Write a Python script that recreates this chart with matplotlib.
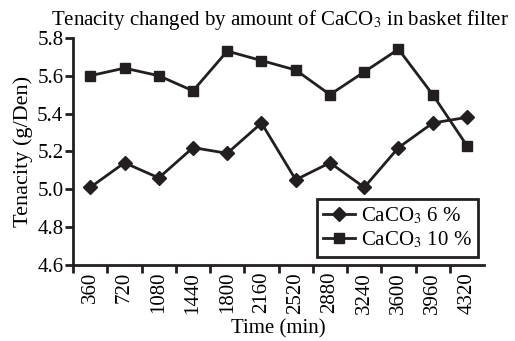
import matplotlib.pyplot as plt
import numpy as np

plt.rcParams['font.family'] = ['Liberation Serif', 'DejaVu Serif']
plt.rcParams['mathtext.fontset'] = 'stix'

times = ['360', '720', '1080', '1440', '1800', '2160', '2520', '2880', '3240', '3600', '3960', '4320']
caco3_6 = [5.01, 5.14, 5.06, 5.22, 5.19, 5.35, 5.05, 5.14, 5.01, 5.22, 5.35, 5.38]
caco3_10 = [5.60, 5.64, 5.60, 5.52, 5.73, 5.68, 5.63, 5.50, 5.62, 5.74, 5.50, 5.23]

fig = plt.figure(figsize=(5.15, 3.41), dpi=100)
ax = fig.add_axes([0.142, 0.223, 0.798, 0.666])

x = np.arange(len(times))
ax.plot(x, caco3_6, color='#231f20', lw=2, marker='D', ms=7, label='CaCO$_3$ 6 %')
ax.plot(x, caco3_10, color='#231f20', lw=2, marker='s', ms=7, label='CaCO$_3$ 10 %')

ax.set_xlim(-0.5, len(times) - 0.5)
ax.set_ylim(4.6, 5.8)
ax.set_yticks(np.arange(4.6, 5.81, 0.2))
ax.set_yticklabels(['%.1f' % v for v in np.arange(4.6, 5.81, 0.2)], fontsize=15)
ax.set_xticks(x - 0.5, minor=False)
ax.set_xticklabels([''] * len(x))
ax.set_xticks(x, minor=True)
ax.set_xticklabels(times, minor=True, rotation=90, fontsize=15)
ax.tick_params(axis='x', which='minor', length=0, pad=5)
ax.tick_params(axis='both', which='major', length=6, width=2, direction='out', color='#231f20')
ax.tick_params(axis='y', pad=1)
for s in ['top', 'right']:
    ax.spines[s].set_visible(False)
for s in ['left', 'bottom']:
    ax.spines[s].set_linewidth(2)
    ax.spines[s].set_color('#231f20')

ax.set_ylabel('Tenacity (g/Den)', fontsize=16, labelpad=3)
ax.set_xlabel('Time (min)', fontsize=15, labelpad=4)
fig.text(0.544, 0.94, 'Tenacity changed by amount of CaCO$_3$ in basket filter',
         ha='center', va='center', fontsize=15)

leg = ax.legend(loc='lower right', bbox_to_anchor=(0.985, 0.035), fontsize=15,
                frameon=True, fancybox=False, edgecolor='#231f20', framealpha=1,
                handlelength=1.5, borderpad=0.3, labelspacing=0.2, handletextpad=0.3,
                borderaxespad=0)
leg.get_frame().set_linewidth(2)

fig.savefig('out.png', dpi=100)
